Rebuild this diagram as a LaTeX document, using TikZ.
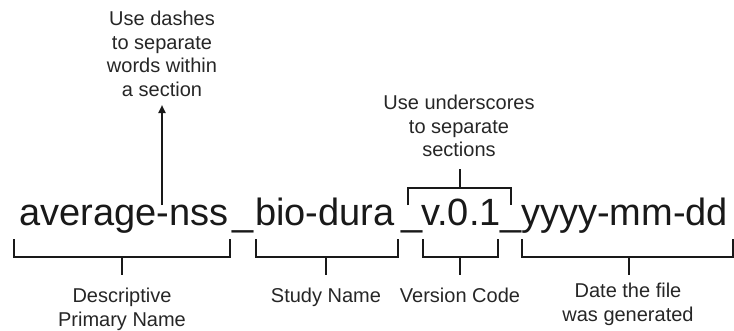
\documentclass[tikz,border=0pt]{standalone}
\usepackage{fontspec}
\setmainfont{Liberation Sans}
\usetikzlibrary{arrows.meta}
\begin{document}
\begin{tikzpicture}[x=1pt,y=-1pt,
  seg/.style={inner sep=0pt,anchor=base west,font=\fontsize{38}{40}\selectfont,text=black!90},
  lbl/.style={inner sep=0pt,anchor=north,align=center,font=\fontsize{20}{23.5}\selectfont,text=black!85},
  brk/.style={line width=2pt,black!90,line join=miter},
  stem/.style={line width=2pt,black!90}]
\useasboundingbox (0,0) rectangle (734,330);
% file name segments
\node[seg] (s1) at (19.5,225) {average-nss};
\node[seg] (u1) at (232,225) {\_};
\node[seg] (s2) at (255,225) {bio-dura};
\node[seg] (u2) at (401,225) {\_};
\node[seg] (s3) at (421,225) {v.0.1};
\node[seg] (u3) at (500,225) {\_};
\node[seg] (s4) at (521,225) {yyyy-mm-dd};
% labels
\node[lbl] (dash) at (162,11) {Use dashes\\to separate\\words within\\a section};
\node[lbl] (under) at (459,95) {Use underscores\\to separate\\sections};
\node[lbl] (desc) at (122,288) {Descriptive\\Primary Name};
\node[lbl] (study) at (326,288) {Study Name};
\node[lbl] (vers) at (460,288) {Version Code};
\node[lbl] (date) at (628,283) {Date the file\\was generated};
% dash arrow
\coordinate (dashfoot) at (162,205);
\coordinate (dashtip) at (162,105);
\draw[stem,-{Triangle[length=8pt,width=7pt]}] (dashfoot) -- (dashtip);
% top bracket
\coordinate (tb1) at (408,205);
\coordinate (tb2) at (511,205);
\coordinate (tbm) at (459.5,188);
\coordinate (tbs) at (459.5,169);
\draw[brk] (tb1) |- (tbm) -| (tb2);
\draw[stem] (tbm) -- (tbs);
% bottom brackets
\foreach \l/\r/\m/\n in {14/230/122/a, 256/398/326/b, 423/498/460/c, 522/733/629/d}{
  \coordinate (\n l) at (\l,239);
  \coordinate (\n r) at (\r,239);
  \coordinate (\n m) at (\m,257);
  \coordinate (\n s) at (\m,275);
  \draw[brk] (\n l) |- (\n m) -| (\n r);
  \draw[stem] (\n m) -- (\n s);
}
\end{tikzpicture}
\end{document}
